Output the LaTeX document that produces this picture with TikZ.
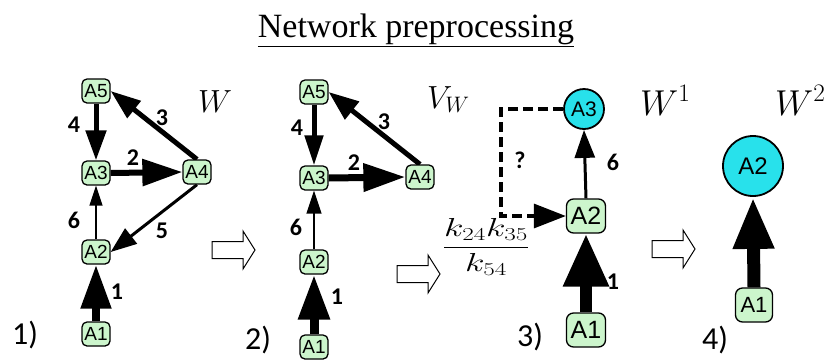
\RequirePackage{fix-cm}
\documentclass[tikz,border=0pt]{standalone}
\usepackage{fontspec}
\setmainfont{Liberation Serif}
\newfontfamily\nodefont{Liberation Sans}
\newfontfamily\lblfont{Carlito}
\usetikzlibrary{arrows.meta,backgrounds}
\definecolor{boxgreen}{RGB}{204,245,204}
\definecolor{circcyan}{RGB}{40,225,235}
\newcommand\hollowarr[2]{%
  \draw[hollow] (#1,#2-8.5) -- ++(31,0) -- ++(0,-10.5) -- ++(12,19) -- ++(-12,19)
    -- ++(0,-10.5) -- ++(-31,0) -- cycle;}
\begin{document}
\begin{tikzpicture}[x=1pt,y=-1pt,
  box/.style={draw, line width=1.3pt, rounded corners=5pt, fill=boxgreen,
    minimum width=28pt, minimum height=24pt, inner sep=0pt,
    font=\nodefont\fontsize{19}{19}\selectfont},
  bigbox/.style={box, minimum width=39pt, minimum height=34pt, rounded corners=7pt,
    font=\nodefont\fontsize{25}{25}\selectfont},
  circ/.style={draw, circle, line width=1.8pt, fill=circcyan, inner sep=0pt},
  elabel/.style={font=\lblfont\bfseries\fontsize{24}{24}\selectfont, inner sep=0pt},
  plabel/.style={font=\lblfont\fontsize{32}{32}\selectfont, inner sep=0pt},
  hollow/.style={draw, line width=1pt, fill=white},
  e/.style args={#1/#2/#3}{draw, line width=#1pt, -{Triangle[length=#2pt, width=#3pt]}},
]
\useasboundingbox (0,0) rectangle (830,360);

% title
\node[anchor=base, inner sep=0pt] (title) at (416,37)
  {\fontsize{34}{36}\selectfont\underline{Network preprocessing}};

% ---------- panel 1 ----------
\node[box] (p1a5) at (96,91) {A5};
\node[box] (p1a3) at (96,173) {A3};
\node[box] (p1a4) at (197,172) {A4};
\node[box] (p1a2) at (96,252) {A2};
\node[box] (p1a1) at (96,334) {A1};
\begin{scope}[on background layer]
\draw[e=5/30/20] (p1a5.south) -- (p1a3.north);
\draw[e=5/30/21] (p1a4.north) -- (p1a5.east);
\draw[e=6/40/26] (p1a3.east) -- (p1a4.west);
\draw[e=3/26/19] (p1a4.south) -- (p1a2.east);
\draw[e=1.5/20/13] (p1a2.north) -- (p1a3.south);
\draw[e=8/44/29] (p1a1.north) -- (p1a2.south);
\end{scope}
\node[elabel] (p1l4) at (74,125) {4};
\node[elabel] (p1l3) at (162,118) {3};
\node[elabel] (p1l2) at (133,158) {2};
\node[elabel] (p1l6) at (74,220) {6};
\node[elabel] (p1l5) at (162,231) {5};
\node[elabel] (p1l1) at (117,292) {1};
\node[plabel] (n1) at (25,335) {1)};
\node[anchor=base, inner sep=0pt] (w0) at (215,112) {\fontsize{32}{34}\selectfont$W$};

\hollowarr{212}{250}

% ---------- panel 2 ----------
\node[box] (p2a5) at (314,92) {A5};
\node[box] (p2a3) at (314,178) {A3};
\node[box] (p2a4) at (420,177) {A4};
\node[box] (p2a2) at (314,262) {A2};
\node[box] (p2a1) at (314,347) {A1};
\begin{scope}[on background layer]
\draw[e=5/30/18] (p2a5.south) -- (p2a3.north);
\draw[e=5/30/22] (p2a4.north) -- (p2a5.east);
\draw[e=7/42/27] (p2a3.east) -- (p2a4.west);
\draw[e=1.5/23/15] (p2a2.north) -- (p2a3.south);
\draw[e=9/45/30] (p2a1.north) -- (p2a2.south);
\end{scope}
\node[elabel] (p2l4) at (297,128) {4};
\node[elabel] (p2l3) at (384,122) {3};
\node[elabel] (p2l2) at (354,163) {2};
\node[elabel] (p2l6) at (296,227) {6};
\node[elabel] (p2l1) at (337,297) {1};
\node[plabel] (n2) at (258,340) {2)};
\node[anchor=base west, inner sep=0pt] (vw) at (427,108) {\fontsize{32}{34}\selectfont$V_W$};

\hollowarr{397}{274}

% ---------- panel 3 ----------
\node[circ, minimum size=40pt, font=\nodefont\fontsize{21}{21}\selectfont] (p3a3) at (584,109) {A3};
\node[bigbox] (p3a2) at (586,216) {A2};
\node[bigbox] (p3a1) at (586,330) {A1};
\begin{scope}[on background layer]
\draw[e=3/28/20] (p3a2.north) -- (p3a3.south);
\draw[e=12/53/43] (p3a1.north) -- (p3a2.south);
\draw[e=3.3/32/24, dash pattern=on 10pt off 5pt] (p3a3.west) -- ++(-62,0) |- (p3a2.west);
\end{scope}
\node[elabel] (p3l6) at (613,162) {6};
\node[elabel] (p3l1) at (613,282) {1};
\node[elabel, font=\lblfont\bfseries\fontsize{24}{24}\selectfont] (p3q) at (520,160) {?};
\node[plabel] (n3) at (530,337) {3)};
\node[inner sep=0pt] (frac) at (486,247)
  {\fontsize{26}{28}\selectfont\scalebox{1.38}[1]{$\displaystyle\frac{k_{24}k_{35}}{k_{54}}$}};
\node[anchor=base west, inner sep=0pt] (w1) at (640,115) {\fontsize{36}{38}\selectfont$W^1$};

\hollowarr{652}{249}

% ---------- panel 4 ----------
\node[circ, minimum size=60pt, font=\nodefont\fontsize{24}{24}\selectfont] (p4a2) at (753,166) {A2};
\node[bigbox, minimum width=37pt, font=\nodefont\fontsize{22}{22}\selectfont] (p4a1) at (754,305) {A1};
\begin{scope}[on background layer]
\draw[e=13/52/38] (p4a1.north) -- (p4a2.south);
\end{scope}
\node[plabel] (n4) at (715,340) {4)};
\node[anchor=base west, inner sep=0pt] (w2) at (775,115) {\fontsize{36}{38}\selectfont$W^2$};
\end{tikzpicture}
\end{document}
